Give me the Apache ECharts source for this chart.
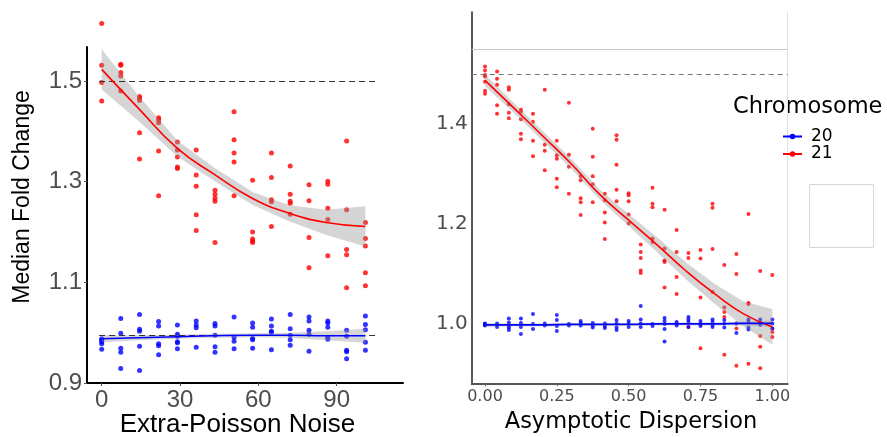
<!DOCTYPE html>
<html><head><meta charset="utf-8">
<script src="https://cdn.jsdelivr.net/npm/echarts@6/dist/echarts.min.js"></script>
<style>html,body{margin:0;padding:0;background:#fff}#c{width:887px;height:437px}</style>
</head><body><div id="c"></div>
<script>
// ---------- data ----------
const leftX = [0, 7.3, 14.5, 21.8, 29, 36.2, 43.4, 50.7, 57.8, 65, 72.2, 79.4, 86.6, 93.8, 101];
const leftRed = [
  [1.614, 1.531, 1.497, 1.46],
  [1.533, 1.531, 1.517, 1.51, 1.48],
  [1.469, 1.465, 1.461, 1.397, 1.345],
  [1.427, 1.423, 1.417, 1.361, 1.272],
  [1.379, 1.363, 1.349, 1.329, 1.326],
  [1.363, 1.313, 1.291, 1.234, 1.203],
  [1.283, 1.275, 1.267, 1.261, 1.179],
  [1.439, 1.383, 1.357, 1.339, 1.272],
  [1.303, 1.2, 1.186, 1.182, 1.179],
  [1.357, 1.308, 1.264, 1.26, 1.211],
  [1.331, 1.275, 1.261, 1.257, 1.235],
  [1.294, 1.262, 1.189, 1.129],
  [1.301, 1.295, 1.247, 1.225, 1.153],
  [1.381, 1.244, 1.165, 1.155, 1.089],
  [1.219, 1.187, 1.172, 1.119, 1.093]
];
const leftBlue = [
  [0.988, 0.985, 0.982, 0.978, 0.967],
  [1.028, 0.999, 0.969, 0.961, 0.929],
  [1.036, 1.007, 1.003, 0.973, 0.925],
  [1.022, 1.013, 0.978, 0.974, 0.956],
  [1.015, 0.997, 0.993, 0.982, 0.980, 0.968],
  [1.023, 1.015, 1.010, 0.971],
  [1.018, 1.013, 0.995, 0.972, 0.961],
  [1.031, 0.991, 0.983, 0.968],
  [1.019, 1.011, 0.989, 0.986, 0.969],
  [1.027, 1.013, 1.003, 1.001, 0.966],
  [1.036, 1.008, 0.995, 0.986, 0.975],
  [1.031, 1.023, 1.005, 0.997, 0.963],
  [1.023, 1.019, 1.011, 0.991, 0.987],
  [1.005, 0.993, 0.965, 0.962, 0.948],
  [1.033, 1.016, 1.006, 0.981, 0.965]
];
const leftFitX = [0, 14, 29, 43, 58, 72, 86, 101];
const leftRedFit = [1.523, 1.446, 1.366, 1.315, 1.266, 1.237, 1.219, 1.211];
const leftRedBand = [0.04, 0.025, 0.016, 0.013, 0.013, 0.016, 0.025, 0.04];
const leftBlueFit = [0.988, 0.990, 0.992, 0.994, 0.995, 0.995, 0.994, 0.994];
const leftBlueBand = [0.007, 0.005, 0.004, 0.004, 0.004, 0.005, 0.009, 0.014];
const leftRefLines = [1.5, 0.994];

const rightX = [0, 0.042, 0.083, 0.125, 0.167, 0.208, 0.25, 0.292, 0.333, 0.375, 0.417, 0.458, 0.5,
                0.542, 0.583, 0.625, 0.667, 0.708, 0.75, 0.792, 0.833, 0.875, 0.917, 0.958, 1];
const rightRed = [
  [1.515, 1.507, 1.498, 1.495, 1.484, 1.466, 1.460],
  [1.505, 1.490, 1.478, 1.437, 1.420],
  [1.473, 1.468, 1.439, 1.422, 1.411],
  [1.428, 1.424, 1.409, 1.380, 1.369],
  [1.420, 1.404, 1.366, 1.335],
  [1.468, 1.358, 1.346, 1.307],
  [1.366, 1.337, 1.330, 1.290, 1.273],
  [1.442, 1.338, 1.314, 1.260],
  [1.295, 1.287, 1.251, 1.243, 1.217],
  [1.390, 1.334, 1.295, 1.279, 1.243],
  [1.260, 1.247, 1.222, 1.202, 1.169],
  [1.377, 1.368, 1.318, 1.268, 1.245],
  [1.261, 1.257, 1.245, 1.218, 1.200],
  [1.158, 1.143, 1.131, 1.106, 1.101],
  [1.272, 1.240, 1.233, 1.170, 1.163],
  [1.228, 1.150, 1.126, 1.123, 1.072],
  [1.187, 1.143, 1.093, 1.059, 1.000],
  [1.141, 1.131, 0.993],
  [1.147, 1.130, 1.052, 0.998, 0.950],
  [1.240, 1.232, 1.149, 1.063],
  [1.117, 1.032, 1.023, 1.013, 0.937],
  [1.139, 1.099, 0.990, 0.915],
  [1.219, 1.041, 1.039, 0.919],
  [1.105, 0.975, 0.953, 0.910],
  [1.097, 0.990, 0.983, 0.973]
];
const rightBlue = [
  [1.000, 0.999, 0.998, 0.997, 0.996],
  [1.000, 0.997, 0.993],
  [1.010, 1.002, 0.996, 0.992, 0.987],
  [1.010, 1.001, 0.993, 0.979],
  [1.019, 0.999, 0.989],
  [1.000, 0.996],
  [1.017, 1.007, 0.995, 0.985],
  [0.999, 0.996],
  [1.005, 1.001, 0.996],
  [1.001, 0.996, 0.992],
  [1.000, 0.995, 0.991],
  [1.007, 1.000, 0.992, 0.987],
  [1.005, 1.000, 0.993],
  [1.035, 1.008, 1.000, 0.993],
  [0.999, 0.995],
  [1.011, 1.005, 0.999, 0.989, 0.964],
  [1.003, 0.999, 0.996],
  [1.013, 1.008, 1.003, 0.993],
  [1.005, 1.000, 0.995],
  [1.008, 1.003, 0.997, 0.993],
  [1.007, 1.000, 0.992],
  [1.000, 0.981],
  [1.008, 1.003, 0.992, 0.988],
  [1.008, 1.001, 0.997],
  [1.008, 1.000, 0.990]
];
const rightFitX = [0, 0.1, 0.2, 0.3, 0.4, 0.5, 0.6, 0.7, 0.8, 0.9, 1.0];
const rightRedFit = [1.487, 1.432, 1.376, 1.320, 1.258, 1.207, 1.157, 1.105, 1.059, 1.019, 0.993];
const rightRedBand = [0.012, 0.01, 0.01, 0.01, 0.01, 0.012, 0.015, 0.017, 0.02, 0.025, 0.036];
const rightBlueFit = [0.997, 0.997, 0.997, 0.998, 0.998, 0.998, 0.999, 0.999, 0.999, 1.0, 1.0];
const rightBlueBand = [0.004, 0.003, 0.003, 0.003, 0.003, 0.003, 0.003, 0.003, 0.003, 0.004, 0.006];
const rightRefDashed = 1.5;
const rightRefSolid = 1.55;

const leftTicksX = [0, 30, 60, 90];
const leftTicksY = [0.9, 1.1, 1.3, 1.5];
const rightTicksX = [0, 0.25, 0.5, 0.75, 1];
const rightTicksY = [1.0, 1.2, 1.4];
const groups = ['20', '21'];

// ---------- build ----------
const RED = '#ff0000', BLUE = '#0000ff', BAND = 'rgba(150,150,150,0.4)';
function pts(xs, cols) {
  const out = [];
  cols.forEach((c, i) => c.forEach(v => out.push([xs[i], v])));
  return out;
}
function scatter(name, ax, data, color, size) {
  return { name, type: 'scatter', xAxisIndex: ax, yAxisIndex: ax, data, clip: false,
    symbolSize: size, itemStyle: { color }, z: 2, silent: true };
}
function band(ax, xs, fit, hw) {
  return { type: 'custom', xAxisIndex: ax, yAxisIndex: ax, z: 3, silent: true,
    data: xs.map((x, i) => [x, fit[i] - hw[i], fit[i] + hw[i]]),
    encode: { x: 0, y: [1, 2] },
    renderItem: function (params, api) {
      if (params.dataIndex !== 0) return null;
      const p = [];
      for (let i = 0; i < xs.length; i++) p.push(api.coord([xs[i], fit[i] + hw[i]]));
      for (let i = xs.length - 1; i >= 0; i--) p.push(api.coord([xs[i], fit[i] - hw[i]]));
      return { type: 'polygon', shape: { points: p }, style: { fill: BAND } };
    } };
}
function fitLine(name, ax, xs, fit, color, extra) {
  return Object.assign({ name, type: 'line', xAxisIndex: ax, yAxisIndex: ax, smooth: true,
    showSymbol: false, symbol: 'circle', symbolSize: 6, z: 5, silent: true,
    data: xs.map((x, i) => [x, fit[i]]),
    lineStyle: { color, width: 1.6 }, itemStyle: { color } }, extra || {});
}

const LF = 'Liberation Sans', DF = 'DejaVu Sans', TC = '#4d4d4d';

const option = {
  animation: false,
  backgroundColor: '#fff',
  grid: [
    { left: 87, top: 47, width: 316, height: 336, outerBoundsMode: 'none' },
    { left: 471.7, top: 12, width: 316, height: 371.3, outerBoundsMode: 'none' }
  ],
  xAxis: [
    { type: 'value', gridIndex: 0, min: -5.63, max: 115.4,
      axisLine: { onZero: false, lineStyle: { color: '#000', width: 2 } },
      axisTick: { show: true, length: 3, lineStyle: { color: '#555' }, customValues: leftTicksX },
      axisLabel: { customValues: leftTicksX, fontFamily: LF, fontSize: 24, color: TC, margin: 5 },
      splitLine: { show: false } },
    { type: 'value', gridIndex: 1, min: -0.0463, max: 1.0536,
      axisLine: { onZero: false, lineStyle: { color: '#555', width: 2 } },
      axisTick: { show: true, length: 3, lineStyle: { color: '#666' }, customValues: rightTicksX },
      axisLabel: { customValues: rightTicksX, formatter: v => v.toFixed(2), fontFamily: DF, fontSize: 16, color: TC, margin: 6 },
      splitLine: { show: false } }
  ],
  yAxis: [
    { type: 'value', gridIndex: 0, min: 0.9, max: 1.5675,
      axisLine: { show: true, onZero: false, lineStyle: { color: '#000', width: 2 } },
      axisTick: { show: true, length: 3, lineStyle: { color: '#555' }, customValues: leftTicksY },
      axisLabel: { customValues: leftTicksY, formatter: v => v.toFixed(1), fontFamily: LF, fontSize: 24, color: TC, margin: 5 },
      splitLine: { show: false } },
    { type: 'value', gridIndex: 1, min: 0.88, max: 1.624,
      axisLine: { show: true, onZero: false, lineStyle: { color: '#222', width: 1.5 } },
      axisTick: { show: false, customValues: rightTicksY },
      axisLabel: { customValues: rightTicksY, formatter: v => v.toFixed(1), fontFamily: DF, fontSize: 20, color: TC, margin: 4 },
      splitLine: { show: false } },
    { type: 'value', gridIndex: 1, position: 'right', min: 0.88, max: 1.624,
      axisLine: { show: true, onZero: false, lineStyle: { color: '#e2e2e2', width: 1 } },
      axisTick: { show: false }, axisLabel: { show: false }, splitLine: { show: false } }
  ],
  legend: {
    data: groups, left: 777, top: 123, orient: 'vertical', itemWidth: 19, itemHeight: 7,
    itemGap: 0.5, selectedMode: false,
    textStyle: { fontFamily: DF, fontSize: 17, color: '#000', lineHeight: 17, padding: [0, 0, 0, 4] }
  },
  graphic: [
    { type: 'text', left: 733, top: 96, style: { text: 'Chromosome', font: '22.5px "DejaVu Sans"', fill: '#000' } },
    { type: 'text', x: 237.5, y: 425, style: { text: 'Extra-Poisson Noise', font: '26px "Liberation Sans"', fill: '#000', align: 'center', verticalAlign: 'middle' } },
    { type: 'text', x: 22.5, y: 197, rotation: Math.PI / 2, style: { text: 'Median Fold Change', font: '23px "Liberation Sans"', fill: '#000', align: 'center', verticalAlign: 'middle' } },
    { type: 'text', x: 631, y: 422, style: { text: 'Asymptotic Dispersion', font: '22.5px "DejaVu Sans"', fill: '#000', align: 'center', verticalAlign: 'middle' } },
    { type: 'rect', shape: { x: 809.5, y: 184.5, width: 64, height: 63 }, style: { fill: 'none', stroke: '#d8d8d8', lineWidth: 1 } }
  ],
  series: [
    scatter('21', 0, pts(leftX, leftRed), RED, 5),
    scatter('20', 0, pts(leftX, leftBlue), BLUE, 5),
    scatter('21', 1, pts(rightX, rightRed), RED, 4),
    scatter('20', 1, pts(rightX, rightBlue), BLUE, 4),
    band(0, leftFitX, leftRedFit, leftRedBand),
    band(0, leftFitX, leftBlueFit, leftBlueBand),
    band(1, rightFitX, rightRedFit, rightRedBand),
    band(1, rightFitX, rightBlueFit, rightBlueBand),
    fitLine('21', 0, leftFitX, leftRedFit, RED, {
      markLine: { silent: true, symbol: 'none', label: { show: false },
        lineStyle: { color: '#333', type: [6, 4], width: 1 },
        data: leftRefLines.map(v => [{ coord: [-1, v] }, { coord: [105, v] }]) } }),
    fitLine('20', 0, leftFitX, leftBlueFit, BLUE),
    fitLine('21', 1, rightFitX, rightRedFit, RED, {
      markLine: { silent: true, symbol: 'none', label: { show: false },
        data: [
          { yAxis: rightRefDashed, lineStyle: { color: '#777', type: [5, 4], width: 1 } },
          { yAxis: rightRefSolid, lineStyle: { color: '#c8c8c8', type: 'solid', width: 1 } }
        ] } }),
    fitLine('20', 1, rightFitX, rightBlueFit, BLUE)
  ]
};
// legend should show line+dot icons: put fit lines first for legend lookup
option.series = option.series.slice(8).concat(option.series.slice(0, 8));
const chart = echarts.init(document.getElementById('c'), null, { renderer: 'canvas' });
chart.setOption(option);
</script></body></html>
